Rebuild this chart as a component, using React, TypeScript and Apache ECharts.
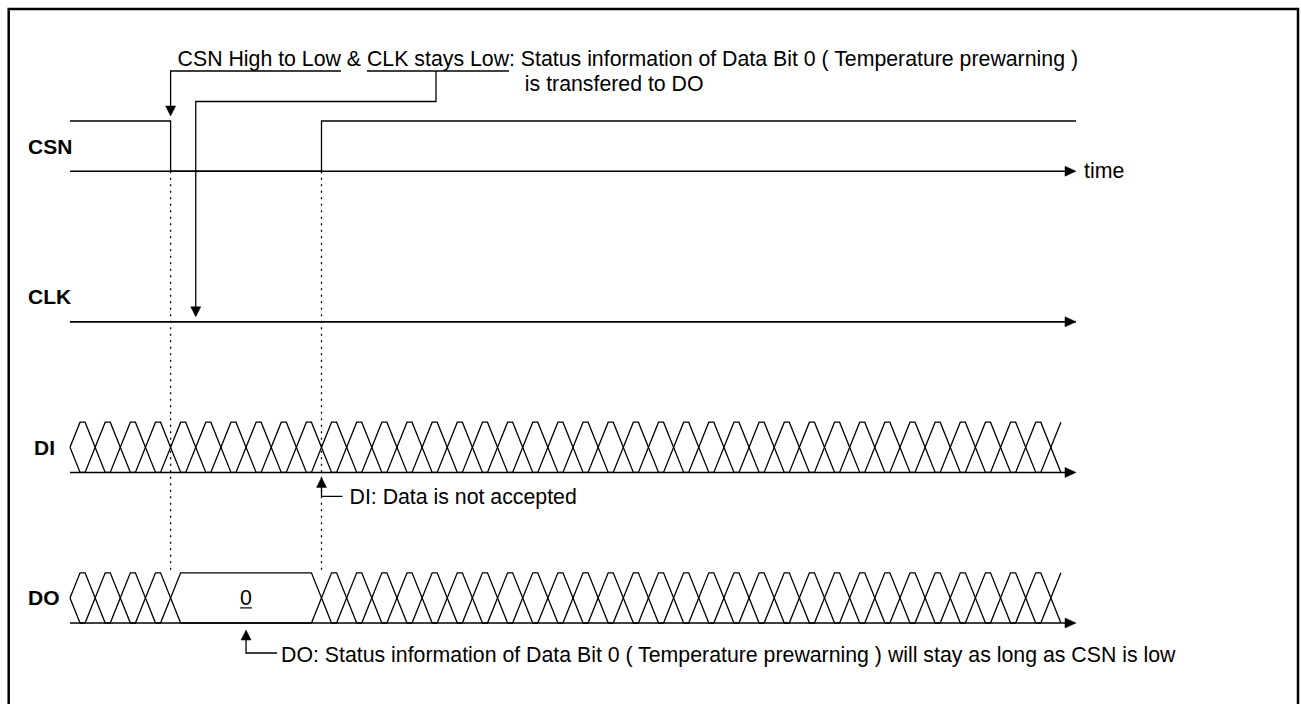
import React, { useEffect, useRef } from "react";
import * as echarts from "echarts";

// ---------- data ----------
const signalNames = ["CSN", "CLK", "DI", "DO"];
const timeStart = -1;
const timeEnd = 39;
// [time, level] level changes, 1 = high, 0 = low
const csnLevels = [
  [-1, 1],
  [3, 0],
  [9, 1],
];
const clkLevels = [[-1, 0]];
// bus transition times (crossings)
const diTransitions = [
  0, 1, 2, 3, 4, 5, 6, 7, 8, 9, 10, 11, 12, 13, 14, 15, 16, 17, 18, 19, 20,
  21, 22, 23, 24, 25, 26, 27, 28, 29, 30, 31, 32, 33, 34, 35, 36, 37, 38,
];
const doTransitions = [
  0, 1, 2, 3, 9, 10, 11, 12, 13, 14, 15, 16, 17, 18, 19, 20, 21, 22, 23, 24,
  25, 26, 27, 28, 29, 30, 31, 32, 33, 34, 35, 36, 37, 38,
];
const doCellLabels = [{ from: 3, to: 9, text: "0" }];
const axisName = "time";
const topNote = [
  "CSN High to Low & CLK stays Low: Status information of Data Bit 0 ( Temperature prewarning )",
  "is transfered to DO",
];
const topUnderlined = ["CSN High to Low", "CLK stays Low"];
const diNote = "DI: Data is not accepted";
const doNote =
  "DO: Status information of Data Bit 0 ( Temperature prewarning ) will stay as long as CSN is low";

// ---------- styles ----------
const FAMILY = '"Liberation Sans", Arial, Helvetica, sans-serif';
const FONT = `21.3px ${FAMILY}`;
const BOLD = `bold 21px ${FAMILY}`;
const HALF_EDGE = 0.4;

let measureCtx: CanvasRenderingContext2D | null = null;
function measure(text: string, font = FONT) {
  if (!measureCtx) measureCtx = document.createElement("canvas").getContext("2d");
  measureCtx!.font = font;
  return measureCtx!.measureText(text).width;
}

const rowHigh = (r: number) => 3 * r;
const rowLow = (r: number) => 3 * r + 1;

function buildOption() {
  const renderItem = (params: any, api: any) => {
    if (params.dataIndex !== 0) return null;
    const P = (t: number, v: number) => api.coord([t, v]) as number[];
    const children: any[] = [];
    const line = (pts: number[][], lw = 1.3, dash?: number[]) =>
      children.push({
        type: "polyline",
        shape: { points: pts },
        style: { stroke: "#000", fill: null, lineWidth: lw, lineDash: dash },
        silent: true,
      });
    const tri = (pts: number[][]) =>
      children.push({
        type: "polygon",
        shape: { points: pts },
        style: { fill: "#000", stroke: "#000", lineWidth: 0.5 },
        silent: true,
      });
    const text = (str: string, x: number, y: number, font = FONT, align = "left") =>
      children.push({
        type: "text",
        style: {
          text: str,
          x,
          y,
          fill: "#000",
          font,
          textAlign: align,
          textVerticalAlign: "middle",
          align,
          verticalAlign: "middle",
        },
        silent: true,
      });
    const arrowRight = (p: number[]) =>
      tri([
        [p[0] - 11, p[1] - 5],
        [p[0], p[1]],
        [p[0] - 11, p[1] + 5],
      ]);
    const arrowDown = (p: number[]) =>
      tri([
        [p[0] - 5, p[1] - 10],
        [p[0], p[1]],
        [p[0] + 5, p[1] - 10],
      ]);
    const arrowUp = (p: number[]) =>
      tri([
        [p[0] - 5, p[1] + 10],
        [p[0], p[1]],
        [p[0] + 5, p[1] + 10],
      ]);

    // axes with arrows, labels
    const labelLeft = [28, 28, 34, 28];
    signalNames.forEach((name, r) => {
      const a = P(timeStart, rowLow(r));
      const b = P(timeEnd, rowLow(r));
      line([a, [b[0] - 10, b[1]]], 1.5);
      arrowRight(b);
      const m = P(timeStart, rowHigh(r) + 0.5);
      text(name, labelLeft[r], m[1], BOLD);
    });
    const tEnd = P(timeEnd, rowLow(0));
    text(axisName, tEnd[0] + 8, tEnd[1]);

    // step signals
    const steps = (r: number, lv: number[][]) => {
      const lvl = (l: number) => (l ? rowHigh(r) : rowLow(r));
      const pts: number[][] = [];
      lv.forEach(([t, l], i) => {
        if (i > 0) pts.push(P(t, lvl(lv[i - 1][1])));
        pts.push(P(t, lvl(l)));
      });
      pts.push(P(timeEnd, lvl(lv[lv.length - 1][1])));
      line(pts);
    };
    steps(0, csnLevels);
    steps(1, clkLevels);

    // buses
    const bus = (r: number, trans: number[]) => {
      const hi = rowHigh(r);
      const lo = rowLow(r);
      const mid = (hi + lo) / 2;
      const a = [P(timeStart, mid), P(timeStart + HALF_EDGE, hi)];
      const b = [P(timeStart, mid), P(timeStart + HALF_EDGE, lo)];
      let la = hi;
      let lb = lo;
      trans.forEach((t) => {
        a.push(P(t - HALF_EDGE, la));
        b.push(P(t - HALF_EDGE, lb));
        const tmp = la;
        la = lb;
        lb = tmp;
        a.push(P(t + HALF_EDGE, la));
        b.push(P(t + HALF_EDGE, lb));
      });
      line(a);
      line(b);
    };
    bus(2, diTransitions);
    bus(3, doTransitions);
    doCellLabels.forEach((c) => {
      const p = P((c.from + c.to) / 2, rowHigh(3) + 0.5);
      text(c.text, p[0], p[1], FONT, "center");
      const w = measure(c.text);
      line([
        [p[0] - w / 2, p[1] + 10],
        [p[0] + w / 2, p[1] + 10],
      ], 1.2);
    });

    // dotted guides at CSN edges
    const edges = csnLevels.slice(1).map((d) => d[0]);
    edges.forEach((t) => {
      line([P(t, rowLow(0)), P(t, rowHigh(3))], 1.3, [2, 4.5]);
    });

    // top annotation
    const fall = edges[0];
    const rise = edges[1];
    const hiY = P(fall, rowHigh(0))[1];
    const ax = P(fall, rowHigh(0))[0];
    const x0 = ax + 7;
    const uy = hiY - 50;
    text(topNote[0], x0, hiY - 62);
    const i1 = topNote[0].indexOf(topUnderlined[0]);
    const u1s = x0 + measure(topNote[0].slice(0, i1));
    const u1e = u1s + measure(topUnderlined[0]);
    line([
      [u1e, uy],
      [ax, uy],
      [ax, hiY - 15],
    ]);
    arrowDown([ax, hiY - 5]);
    const i2 = topNote[0].indexOf(topUnderlined[1]);
    const u2s = x0 + measure(topNote[0].slice(0, i2));
    const u2e = u2s + measure(topUnderlined[1]);
    line([
      [u2s, uy],
      [u2e, uy],
    ]);
    const cx = (u2s + u2e) / 2 - 2;
    const clk = P(fall + 1, rowLow(1));
    line([
      [cx, uy],
      [cx, hiY - 19.5],
      [clk[0], hiY - 19.5],
      [clk[0], clk[1] - 14],
    ]);
    arrowDown([clk[0], clk[1] - 5]);
    const iS = topNote[0].indexOf("Status");
    text(topNote[1], x0 + measure(topNote[0].slice(0, iS)) + 4, hiY - 37);

    // DI annotation
    const di = P(rise, rowLow(2));
    arrowUp([di[0], di[1] + 5]);
    line([
      [di[0], di[1] + 14],
      [di[0], di[1] + 24],
      [di[0] + 21, di[1] + 24],
    ]);
    text(diNote, di[0] + 28, di[1] + 25);

    // DO annotation
    const c0 = doCellLabels[0];
    const dp = P((c0.from + c0.to) / 2, rowLow(3));
    arrowUp([dp[0], dp[1] + 7]);
    line([
      [dp[0], dp[1] + 16],
      [dp[0], dp[1] + 30],
      [dp[0] + 31, dp[1] + 30],
    ]);
    text(doNote, dp[0] + 35, dp[1] + 32);

    return { type: "group", children };
  };

  return {
    animation: false,
    backgroundColor: "#fff",
    grid: { left: 70, top: 121, width: 1006, height: 502 },
    xAxis: { type: "value", min: timeStart, max: timeEnd, show: false },
    yAxis: { type: "value", min: 0, max: 10, inverse: true, show: false },
    graphic: [
      {
        type: "rect",
        shape: { x: 8.7, y: 9, width: 1289.3, height: 720 },
        style: { fill: null, stroke: "#000", lineWidth: 2.5 },
        silent: true,
        z: 10,
      },
    ],
    series: [
      {
        type: "custom",
        clip: false,
        silent: true,
        data: [[0, 0]],
        renderItem,
      },
    ],
  };
}

export default function App() {
  const ref = useRef<HTMLDivElement>(null);
  useEffect(() => {
    if (!ref.current) return;
    const chart = echarts.init(ref.current, null, { renderer: "svg" });
    chart.setOption(buildOption() as any);
    return () => chart.dispose();
  }, []);
  return (
    <div
      ref={ref}
      style={{ position: "fixed", left: 0, top: 0, width: 1301, height: 704, background: "#fff" }}
    />
  );
}
